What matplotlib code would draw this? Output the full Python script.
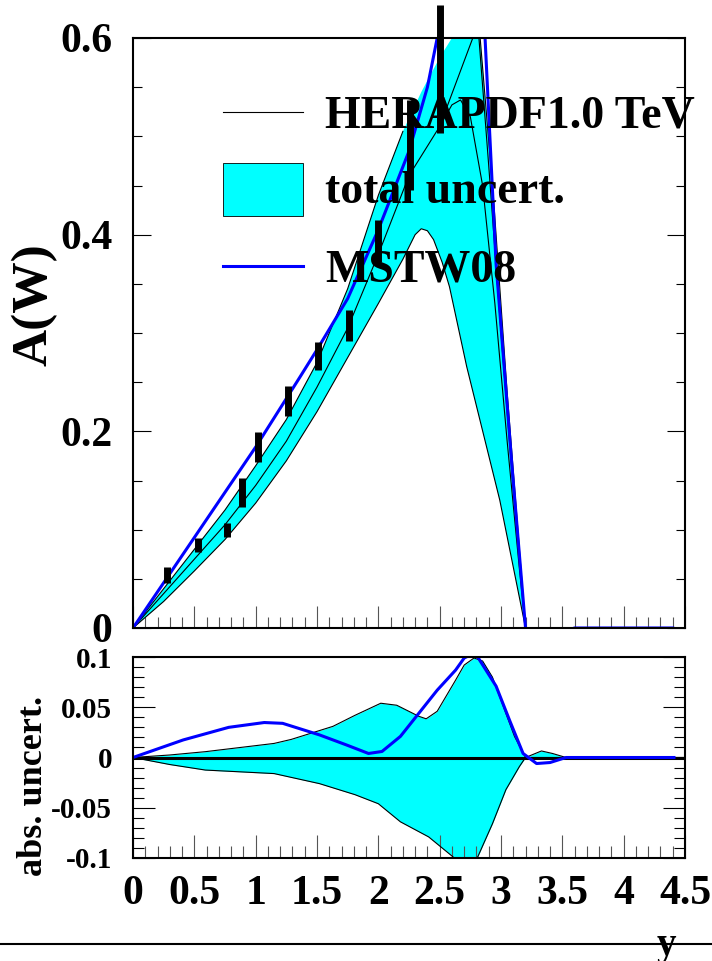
import numpy as np
import matplotlib
matplotlib.use("Agg")
import matplotlib.pyplot as plt
from matplotlib.ticker import MultipleLocator
from matplotlib.lines import Line2D
from matplotlib.patches import Rectangle
from matplotlib.font_manager import FontProperties

# ---- data ----
# measured asymmetry points (only error bars drawn)
pts_x = [0.28, 0.53, 0.77, 0.89, 1.02, 1.26, 1.51, 1.76, 2.0, 2.26, 2.5]
pts_lo = [0.046, 0.077, 0.093, 0.123, 0.169, 0.216, 0.262, 0.292, 0.372, 0.445, 0.503]
pts_hi = [0.062, 0.092, 0.107, 0.153, 0.199, 0.246, 0.291, 0.323, 0.415, 0.537, 0.634]

# HERAPDF1.0 band edges (top panel)
up_x = [0, 0.25, 0.5, 0.75, 1.0, 1.25, 1.5, 1.75, 2.0, 2.2, 2.35, 2.5, 2.6, 2.7, 2.76, 2.83, 2.94, 3.05, 3.15, 3.2]
up_y = [0, 0.04, 0.08, 0.12, 0.165, 0.212, 0.27, 0.345, 0.44, 0.505, 0.545, 0.58, 0.6, 0.68, 0.7, 0.6, 0.435, 0.24, 0.08, 0]
lo_x = [0, 0.25, 0.5, 0.75, 1.0, 1.25, 1.5, 1.75, 2.0, 2.2, 2.3, 2.35, 2.4, 2.45, 2.52, 2.58, 2.72, 2.855, 2.99, 3.1, 3.2]
lo_y = [0, 0.027, 0.058, 0.09, 0.127, 0.17, 0.22, 0.275, 0.33, 0.375, 0.4, 0.406, 0.404, 0.395, 0.372, 0.347, 0.266, 0.198, 0.13, 0.062, 0]

# HERAPDF1.0 central and a second variant line
cen_x = [0, 0.25, 0.5, 0.75, 1.0, 1.25, 1.5, 1.75, 2.0, 2.25, 2.5, 2.6, 2.67, 2.75, 2.85, 2.95, 3.05, 3.15, 3.2]
cen_y = [0, 0.035, 0.07, 0.105, 0.145, 0.19, 0.245, 0.305, 0.38, 0.46, 0.51, 0.532, 0.537, 0.52, 0.45, 0.33, 0.19, 0.06, 0]
var_x = [2.5, 2.77, 2.79, 2.82, 2.9, 3.0, 3.1, 3.2]
var_y = [0.51, 0.6, 0.61, 0.6, 0.47, 0.3, 0.14, 0]

# MSTW08
mstw_x = [0, 0.5, 1.0, 1.36, 1.5, 1.75, 2.0, 2.25, 2.4, 2.48, 2.6, 2.7, 2.8, 2.87, 2.96, 3.09, 3.2, 3.3, 3.5, 3.6, 4.4]
mstw_y = [0, 0.092, 0.184, 0.255, 0.283, 0.335, 0.405, 0.485, 0.55, 0.6, 0.7, 0.76, 0.72, 0.6, 0.37, 0.164, 0, -0.006, -0.004, 0, 0]

# bottom panel: absolute uncertainties
uu_x = [0, 0.3, 0.59, 1.15, 1.29, 1.63, 1.81, 2.02, 2.15, 2.33, 2.39, 2.48, 2.63, 2.7, 2.78, 2.85, 2.93, 3.0, 3.11, 3.2, 3.33, 3.42, 3.53, 4.5]
uu_y = [0, 0.0025, 0.0058, 0.014, 0.018, 0.031, 0.042, 0.054, 0.052, 0.041, 0.0385, 0.046, 0.077, 0.092, 0.099, 0.096, 0.08, 0.057, 0.021, 0, 0.0065, 0.004, 0, 0]
ul_x = [0, 0.3, 0.59, 1.15, 1.52, 1.81, 2.0, 2.18, 2.41, 2.61, 2.7, 2.81, 2.93, 3.04, 3.15, 3.2, 4.5]
ul_y = [0, -0.007, -0.0125, -0.016, -0.026, -0.037, -0.046, -0.064, -0.079, -0.099, -0.11, -0.099, -0.066, -0.032, -0.009, 0, 0]
dm_x = [0, 0.41, 0.78, 1.07, 1.22, 1.52, 1.74, 1.92, 2.03, 2.18, 2.33, 2.48, 2.63, 2.70, 2.75, 2.81, 2.96, 3.07, 3.18, 3.29, 3.40, 3.53, 4.41]
dm_y = [0, 0.0175, 0.030, 0.0348, 0.034, 0.0225, 0.0125, 0.004, 0.006, 0.021, 0.044, 0.067, 0.087, 0.099, 0.102, 0.1, 0.071, 0.037, 0.004, -0.006, -0.005, 0, 0]

top_ticks = [0, 0.2, 0.4, 0.6]
top_labels = ["0", "0.2", "0.4", "0.6"]
bot_yticks = [-0.1, -0.05, 0, 0.05, 0.1]
bot_ylabels = ["-0.1", "-0.05", "0", "0.05", "0.1"]
xticks = [0, 0.5, 1, 1.5, 2, 2.5, 3, 3.5, 4, 4.5]
xlabels = ["0", "0.5", "1", "1.5", "2", "2.5", "3", "3.5", "4", "4.5"]

CYAN = "#00ffff"
BLUE = "#0000ff"
W, H = 712, 961
FONT = dict(family="Liberation Serif", weight="bold")


def fx(px):
    return px / W


def fy(py):
    return 1 - py / H


fig = plt.figure(figsize=(W / 100, H / 100), dpi=100)

ax1 = fig.add_axes([fx(133), fy(628), fx(685) - fx(133), fy(38) - fy(628)])
ax2 = fig.add_axes([fx(133), fy(858), fx(685) - fx(133), fy(657) - fy(858)])

# ---- top panel ----
poly_x = np.concatenate([up_x, lo_x[::-1]])
poly_y = np.concatenate([up_y, lo_y[::-1]])
ax1.fill(poly_x, poly_y, color=CYAN, lw=0, zorder=1)
ax1.plot(lo_x, lo_y, color="black", lw=0.8, zorder=2)
up_edge = np.array(up_y, dtype=float)
up_edge[(np.array(up_x) > 2.2) & (np.array(up_x) < 2.83)] = np.nan
ax1.plot(up_x, up_edge, color="black", lw=0.8, zorder=2)
ax1.plot(cen_x, cen_y, color="black", lw=0.8, zorder=2)
ax1.plot(var_x, var_y, color="black", lw=0.8, zorder=2)
ax1.plot(mstw_x, mstw_y, color=BLUE, lw=2.2, zorder=3)
ax1.vlines(pts_x, pts_lo, pts_hi, color="black", lw=5, zorder=4, clip_on=False)

ax1.set_xlim(0, 4.5)
ax1.set_ylim(0, 0.6)
ax1.xaxis.set_major_locator(MultipleLocator(0.5))
ax1.xaxis.set_minor_locator(MultipleLocator(0.1))
ax1.set_yticks(top_ticks, top_labels)
ax1.yaxis.set_minor_locator(MultipleLocator(0.05))
ax1.tick_params(axis="x", which="both", direction="in", bottom=True, top=False,
                labelbottom=False, width=0.8, color="#555555")
ax1.tick_params(axis="x", which="major", length=16)
ax1.tick_params(axis="x", which="minor", length=8)
ax1.tick_params(axis="y", which="both", direction="in", left=True, right=True, width=0.8)
ax1.tick_params(axis="y", which="major", length=13, pad=15)
ax1.tick_params(axis="y", which="minor", length=6.5)
for t in ax1.get_yticklabels():
    t.set_fontproperties(FontProperties(size=30, **FONT))

# ---- bottom panel ----
ax2.fill_between(uu_x, uu_y, 0, color=CYAN, lw=0, zorder=1)
ax2.fill_between(ul_x, ul_y, 0, color=CYAN, lw=0, zorder=1)
ax2.plot(uu_x, uu_y, color="black", lw=0.8, zorder=2)
ax2.plot(ul_x, ul_y, color="black", lw=0.8, zorder=2)
ax2.plot([0, 4.5], [0, 0], color="black", lw=2.2, zorder=3)
ax2.plot(dm_x, dm_y, color=BLUE, lw=2.2, zorder=4)

ax2.set_xlim(0, 4.5)
ax2.set_ylim(-0.1, 0.1)
ax2.set_xticks(xticks, xlabels)
ax2.xaxis.set_minor_locator(MultipleLocator(0.1))
ax2.set_yticks(bot_yticks, bot_ylabels)
ax2.yaxis.set_minor_locator(MultipleLocator(0.01))
ax2.tick_params(axis="x", which="both", direction="in", bottom=True, top=False,
                width=0.8, color="#555555")
ax2.tick_params(axis="x", which="major", length=16.5, pad=12)
ax2.tick_params(axis="x", which="minor", length=8.5)
ax2.tick_params(axis="y", which="both", direction="in", left=True, right=True, width=0.8)
ax2.tick_params(axis="y", which="major", length=16, pad=15)
ax2.tick_params(axis="y", which="minor", length=8)
for t in ax2.get_xticklabels():
    t.set_fontproperties(FontProperties(size=30, **FONT))
for t in ax2.get_yticklabels():
    t.set_fontproperties(FontProperties(size=21, **FONT))

for ax in (ax1, ax2):
    for s in ax.spines.values():
        s.set_linewidth(1.5)
        s.set_zorder(5)

# axis titles
fig.text(fx(35), fy(305), "A(W)", rotation=90, ha="center", va="center", fontsize=37, **FONT)
fig.text(fx(34), fy(786), "abs. uncert.", rotation=90, ha="center", va="center", fontsize=26, **FONT)

# legend drawn by hand, ROOT style (no frame)
fig.add_artist(Line2D([fx(223), fx(303)], [fy(112), fy(112)], color="black", lw=0.8))
fig.add_artist(Rectangle((fx(223), fy(216)), fx(303) - fx(223), fy(163) - fy(216),
                         facecolor=CYAN, edgecolor="black", lw=0.6))
fig.add_artist(Line2D([fx(223), fx(303)], [fy(266), fy(266)], color=BLUE, lw=2.2))
fig.text(fx(325), fy(117), "HERAPDF1.0 TeV", ha="left", va="center", fontsize=33, zorder=10, **FONT)
fig.text(fx(325), fy(192), "total uncert.", ha="left", va="center", fontsize=33, zorder=10, **FONT)
fig.text(fx(325), fy(270), "MSTW08", ha="left", va="center", fontsize=33, zorder=10, **FONT)

# stray axis line at the very bottom with its "y" title
fig.add_artist(Line2D([0, 1], [fy(944), fy(944)], color="black", lw=1.5))
fig.text(fx(666), fy(946), "y", ha="center", va="center", fontsize=28, **FONT)

fig.savefig("out.png", dpi=100)
